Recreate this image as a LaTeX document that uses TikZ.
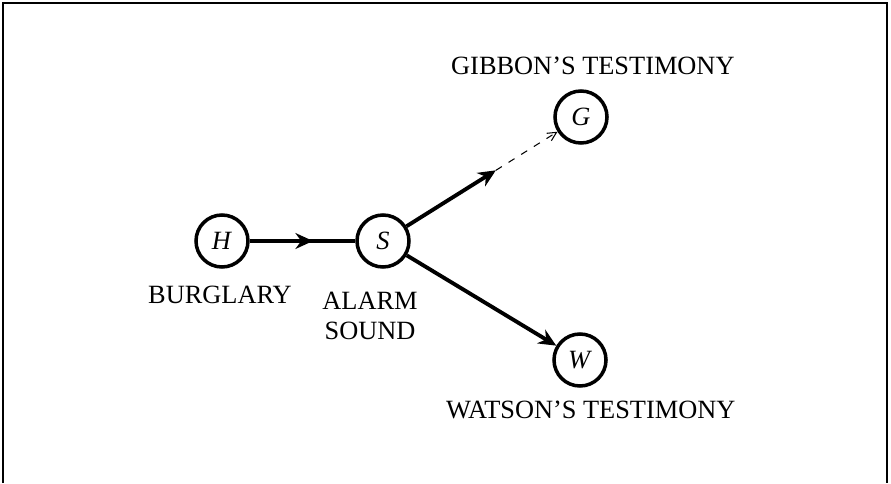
\documentclass[tikz,border=0pt]{standalone}
\usepackage{fontspec}
\setmainfont{Liberation Serif}
\usepackage{tikz}
\usetikzlibrary{arrows.meta, decorations.markings, positioning, calc}

\tikzset{
    var/.style={circle, draw, line width=2pt, minimum size=1.04cm, inner sep=0pt},
    edge/.style={line width=2.2pt},
    midarrow/.style={decoration={markings, mark=at position #1 with {\arrow{Stealth[length=10pt,width=9pt]}}}, postaction={decorate}},
    caption/.style={font=\fontsize{15}{17.5}\selectfont, align=center}
}

\begin{document}
\begin{tikzpicture}
    \useasboundingbox (0,0) rectangle (17.82,9.66);

    % Frame (open at the bottom)
    \draw[line width=0.6pt] (0.06,0) -- (0.06,9.6) -- (17.74,9.6) -- (17.74,0);

    % Variables
    \node[var] (H) at (4.44,4.84) {\fontsize{15}{17}\selectfont\textit{H}};
    \node[var] (S) at (7.66,4.84) {\fontsize{15}{17}\selectfont\textit{S}};
    \node[var] (G) at (11.62,7.32) {\fontsize{15}{17}\selectfont\textit{G}};
    \node[var] (W) at (11.6,2.46) {\fontsize{15}{17}\selectfont\textit{W}};

    % Captions
    \node[caption] (burglary) at (4.4,3.76) {BURGLARY};
    \node[caption] (alarm) at (7.4,3.34) {ALARM\\SOUND};
    \node[caption, anchor=west] (gibbon) at (8.9,8.34) {GIBBON'S TESTIMONY};
    \node[caption, anchor=west] (watson) at (8.8,1.46) {WATSON'S TESTIMONY};

    % Links
    \draw[edge, midarrow=0.6] (H) -- (S);
    \coordinate (gtip) at ($(S)!0.57!(G)$);
    \draw[edge, -{Stealth[length=10pt,width=9pt]}] (S) -- (gtip);
    \draw[line width=0.6pt, dash pattern=on 4pt off 4.5pt, -{Straight Barb[length=5pt,width=5pt]}] (gtip) -- (G);
    \draw[edge, -{Stealth[length=10pt,width=9pt]}] (S) -- (W);

\end{tikzpicture}
\end{document}
